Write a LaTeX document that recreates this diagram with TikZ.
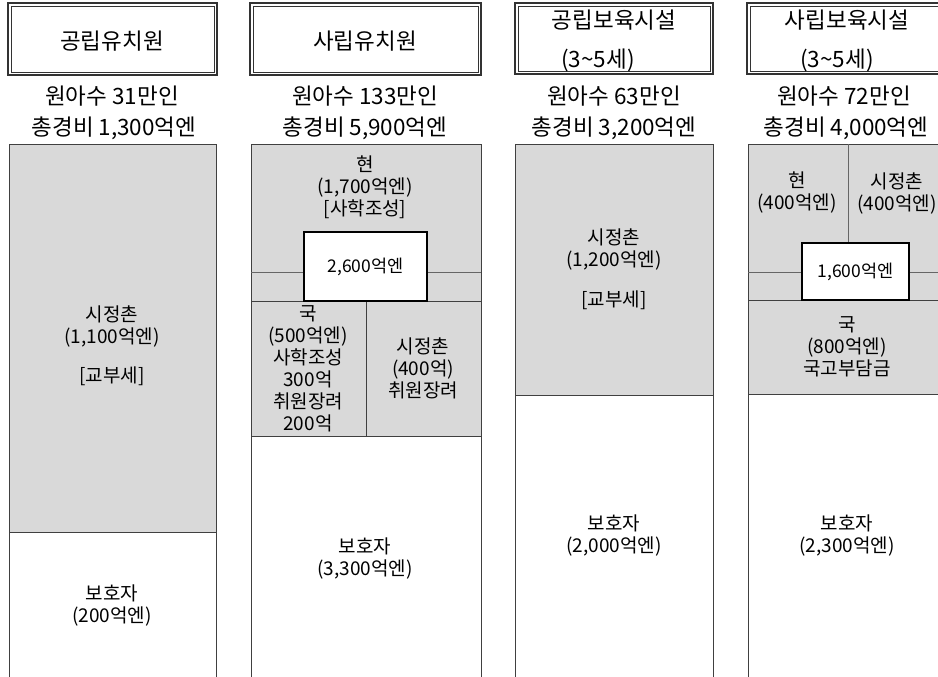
\documentclass[tikz,border=0pt]{standalone}
\usepackage{fontspec}
\setmainfont{Noto Sans CJK KR}
\tikzset{
  titleouter/.style={draw=black!80, line width=1.3pt, fill=white},
  titleinner/.style={draw=black!80, line width=0.8pt},
  cell/.style={draw=black!75, line width=0.9pt, fill=gray!30},
  blank/.style={draw=black!75, line width=0.9pt, fill=white},
  thinline/.style={draw=black!60, line width=0.8pt},
  sumbox/.style={draw=black, line width=1.6pt, fill=white},
  head/.style={inner sep=0pt, font=\fontsize{22.5}{26}\selectfont},
  txt/.style={inner sep=0pt, align=center, font=\fontsize{19}{22}\selectfont},
  sumtxt/.style={inner sep=0pt, align=center, font=\fontsize{17.5}{21}\selectfont}
}
\newcommand{\titleframe}[4]{%
  \path[titleouter] (#1,#2) rectangle (#3,#4);
  \path[titleinner] (#1+3,#2+3) rectangle (#3-3,#4-3);}
\begin{document}
\begin{tikzpicture}[x=1pt,y=-1pt]
\useasboundingbox (0,0) rectangle (938,677);
\clip (0,0) rectangle (938,677);
% ---------- column 1
\titleframe{8}{3}{217}{75}
\node[head] (t1) at (112,41) {공립유치원};
\node[head] (n1) at (112,96) {원아수 31만인};
\node[head] (c1) at (114,128) {총경비 1,300억엔};
\path[cell] (9,144) rectangle (216,532);
\path[blank] (9,532) rectangle (216,700);
\node[txt] (g1) at (112,326) {시정촌\\(1,100억엔)};
\node[txt] (g1b) at (112,376) {[교부세]};
\node[txt] (w1) at (112,606) {보호자\\(200억엔)};
% ---------- column 2
\titleframe{250}{3}{481}{75}
\node[head] (t2) at (365,41) {사립유치원};
\node[head] (n2) at (365,96) {원아수 133만인};
\node[head] (c2) at (365,128) {총경비 5,900억엔};
\path[cell] (251,144) rectangle (481,301);
\path[cell] (251,301) rectangle (366,436);
\path[cell] (366,301) rectangle (481,436);
\path[blank] (251,436) rectangle (481,700);
\coordinate (h2a) at (251,272);
\coordinate (h2b) at (481,272);
\draw[thinline] (h2a) -- (h2b);
\node[txt] (p2) at (365,187) {현\\(1,700억엔)\\{[}사학조성{]}};
\node[sumbox, minimum width=123pt, minimum height=69pt, inner sep=0pt] (s2) at (365.5,266.5) {};
\node[sumtxt] (s2t) at (365.5,267) {2,600억엔};
\node[txt] (k2) at (308,369) {국\\(500억엔)\\사학조성\\300억\\취원장려\\200억};
\node[txt] (m2) at (423,368) {시정촌\\(400억)\\취원장려};
\node[txt] (w2) at (365,559) {보호자\\(3,300억엔)};
% ---------- column 3
\titleframe{515}{3}{713}{74}
\node[head] (t3) at (614,20) {공립보육시설};
\node[head] (t3b) at (598,60) {(3\textasciitilde5세)};
\node[head] (n3) at (614,96) {원아수 63만인};
\node[head] (c3) at (614,128) {총경비 3,200억엔};
\path[cell] (515,144) rectangle (713,395);
\path[blank] (515,395) rectangle (713,700);
\node[txt] (g3) at (614,249) {시정촌\\(1,200억엔)};
\node[txt] (g3b) at (614,300) {[교부세]};
\node[txt] (w3) at (614,536) {보호자\\(2,000억엔)};
% ---------- column 4
\titleframe{747}{3}{946}{74}
\node[head] (t4) at (847,20) {사립보육시설};
\node[head] (t4b) at (837,60) {(3\textasciitilde5세)};
\node[head] (n4) at (844,96) {원아수 72만인};
\node[head] (c4) at (846,128) {총경비 4,000억엔};
\path[cell] (748,144) rectangle (946,300);
\path[cell] (748,300) rectangle (946,394);
\path[blank] (748,394) rectangle (946,700);
\coordinate (v4a) at (848,144);
\coordinate (v4b) at (848,250);
\draw[thinline] (v4a) -- (v4b);
\coordinate (h4a) at (748,272);
\coordinate (h4b) at (946,272);
\draw[thinline] (h4a) -- (h4b);
\node[txt] (p4) at (797,193) {현\\(400억엔)};
\node[txt] (m4) at (897,193) {시정촌\\(400억엔)};
\node[sumbox, minimum width=107pt, minimum height=57pt, inner sep=0pt] (s4) at (855.5,271.5) {};
\node[sumtxt] (s4t) at (855.5,272) {1,600억엔};
\node[txt] (k4) at (847,347) {국\\(800억엔)\\국고부담금};
\node[txt] (w4) at (847,536) {보호자\\(2,300억엔)};
\end{tikzpicture}
\end{document}
